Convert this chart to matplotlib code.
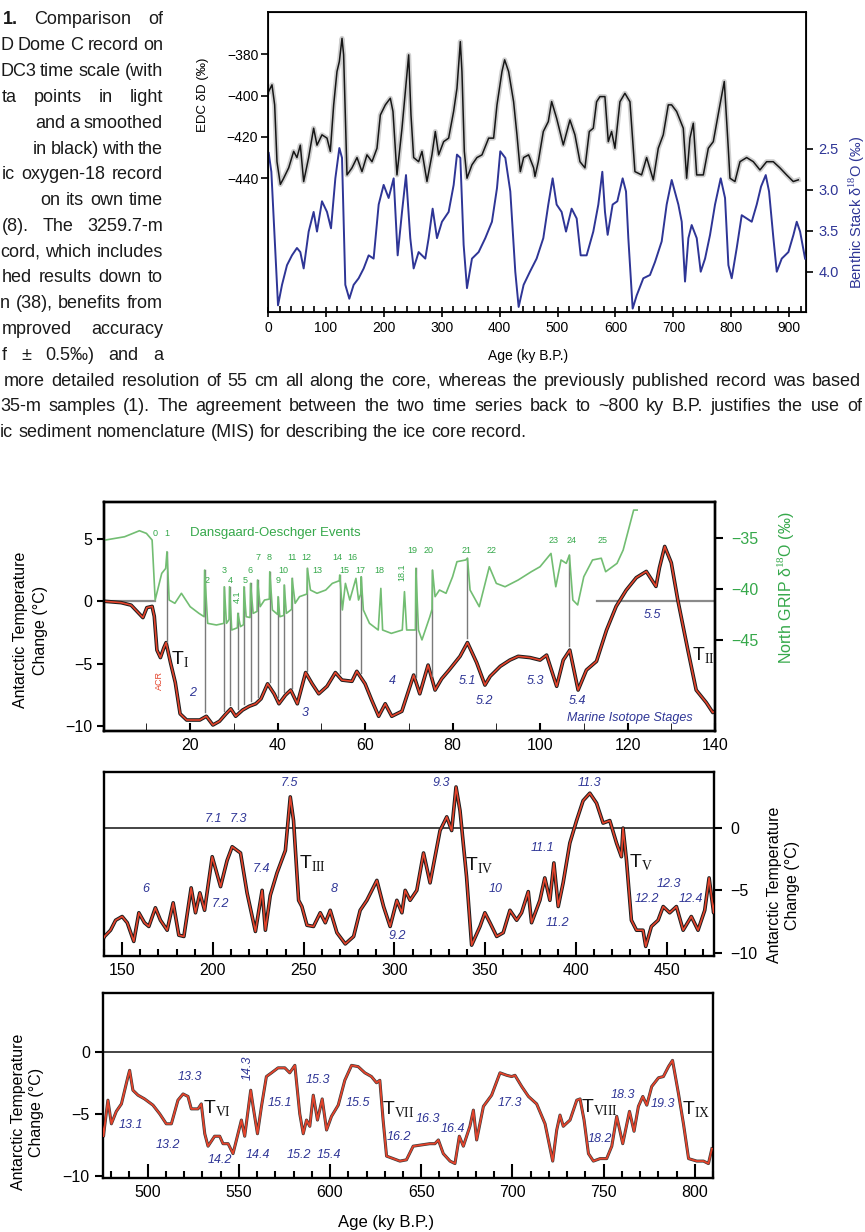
import matplotlib
matplotlib.use('Agg')
import matplotlib.pyplot as plt
from matplotlib import font_manager
import numpy as np
from matplotlib.ticker import MultipleLocator

plt.rcParams['font.family'] = ['Liberation Sans', 'DejaVu Sans']
plt.rcParams['mathtext.fontset'] = 'custom'
plt.rcParams['mathtext.rm'] = 'Liberation Serif'
plt.rcParams['mathtext.sf'] = 'Liberation Sans'

# ---------------- DATA ----------------
# EPICA Dome C deuterium (permil) vs age (ky B.P.)
edc_age = [1.2, 6.9, 11.5, 15.5, 21.3, 27.0, 35.7, 44.3, 50.0, 55.8, 61.6, 70.2, 78.8, 84.6, 93.2, 101.9,
           107.6, 113.4, 119.1, 123.2, 127.8, 130.6, 136.4, 145.0, 153.7, 162.3, 170.9, 179.6, 188.2, 194.0,
           202.6, 211.2, 215.8, 222.7, 231.4, 242.9, 246.9, 251.5, 260.1, 265.9, 274.5, 283.1, 288.9, 294.7,
           303.3, 311.9, 320.5, 326.3, 332.1, 334.9, 339.0, 343.6, 352.2, 360.8, 369.5, 381.0, 389.6, 395.4,
           404.0, 408.6, 415.5, 424.1, 429.9, 435.7, 441.4, 450.0, 458.7, 461.0, 466.7, 475.4, 484.0, 489.8,
           498.4, 509.9, 521.4, 530.0, 538.7, 547.3, 554.8, 561.7, 567.4, 573.2, 581.8, 587.6, 593.3, 599.1,
           607.7, 616.3, 625.0, 633.6, 645.1, 653.8, 665.3, 673.9, 682.5, 691.2, 696.9, 705.6, 717.1, 722.9,
           728.6, 734.4, 740.2, 751.7, 760.3, 768.9, 780.4, 787.9, 794.8, 797.7, 806.3, 815.0, 826.5, 838.0,
           849.5, 861.0, 872.5, 884.0, 895.5, 907.0, 915.7]
edc_dD = [-398, -394.8, -404.5, -432, -443, -440, -435, -427, -430, -424, -441.6, -430, -415.8, -424, -419, -420.6,
          -427, -404.5, -388.4, -383.5, -372.3, -380.3, -438.4, -435, -430, -436.8, -428.7, -432, -425.5, -409.4,
          -404.5, -401.3, -407.7, -438.4, -415.8, -380.3, -409.4, -430, -432, -427, -441.6, -428.7, -417.4, -428.7,
          -422.3, -420.6, -407.7, -396.5, -373.9, -388.4, -427, -440, -433.5, -430, -428.7, -420.6, -420.6, -404.5,
          -388.4, -382.7, -388.4, -403, -419, -436.8, -430, -428.7, -435, -439.2, -432, -417.4, -412.6, -402.9,
          -411, -423.9, -411.8, -419, -432, -435, -417.4, -415.8, -403, -400.5, -400.5, -422.3, -417.4, -425.5,
          -403, -398.9, -403, -436.8, -438.4, -430, -440.8, -425.5, -419, -404.5, -404.5, -407.7, -415.8, -440,
          -420.6, -413.4, -438.4, -438.4, -425.5, -422.3, -404.5, -393.2, -425.5, -440, -441.6, -432, -430, -432,
          -436, -432, -432, -435, -438.4, -441.6, -440.8]

# Benthic stack d18O (permil)
benthic_age = [1.2, 5.8, 11.5, 17.3, 24.2, 32.8, 41.4, 50.0, 55.8, 61.6, 70.2, 78.8, 84.6, 93.2, 101.9, 108.8,
               116.3, 123.2, 127.8, 133.5, 140.4, 147.9, 156.5, 165.2, 173.8, 182.4, 191.1, 199.7, 208.3, 217.0,
               223.9, 231.4, 238.3, 245.7, 251.5, 260.1, 271.6, 277.4, 284.3, 291.8, 300.4, 311.9, 320.6, 326.3,
               332.1, 337.8, 343.6, 352.2, 363.7, 375.2, 386.7, 395.4, 401.1, 409.8, 418.4, 427.0, 432.8, 441.4,
               452.3, 463.8, 475.4, 484.0, 491.5, 498.4, 507.0, 514.6, 524.3, 533.0, 539.9, 550.2, 561.7, 570.4,
               577.3, 581.9, 586.5, 595.1, 603.2, 612.4, 618.2, 622.2, 629.7, 636.6, 648.1, 659.6, 668.3, 679.8,
               688.4, 697.1, 708.6, 714.4, 720.1, 725.9, 731.6, 740.3, 747.2, 754.7, 763.3, 771.9, 781.7, 789.2,
               795.0, 800.7, 809.4, 818.0, 826.7, 835.3, 843.9, 851.4, 859.5, 865.2, 872.7, 878.5, 887.1, 898.6,
               907.3, 913.0, 918.8, 927.4]
benthic_d18O = [2.55, 2.78, 3.59, 4.41, 4.16, 3.92, 3.80, 3.71, 3.76, 3.96, 3.51, 3.27, 3.51, 3.14, 3.27, 3.47,
                2.86, 2.49, 2.61, 4.16, 4.33, 4.16, 4.08, 3.96, 3.80, 3.84, 3.18, 2.94, 3.10, 2.86,
                3.80, 3.27, 2.82, 3.59, 3.96, 3.76, 3.84, 3.59, 3.23, 3.59, 3.39, 3.27, 2.94, 2.57,
                2.61, 3.67, 4.20, 3.84, 3.76, 3.59, 3.39, 2.98, 2.53, 2.61, 3.02, 4.00, 4.43, 4.16,
                4.00, 3.84, 3.59, 3.18, 2.86, 3.18, 3.27, 3.51, 3.23, 3.35, 3.80, 3.80, 3.51, 3.18,
                2.78, 3.27, 3.55, 3.18, 3.14, 2.86, 3.02, 3.59, 4.45, 4.29, 4.08, 4.04, 3.88, 3.63,
                3.18, 2.88, 3.18, 3.39, 4.12, 3.59, 3.43, 3.59, 4.00, 3.84, 3.55, 3.18, 2.86, 3.10,
                3.92, 4.08, 3.71, 3.31, 3.35, 3.39, 3.18, 2.96, 2.82, 3.02, 3.59, 4.00, 3.84, 3.76,
                3.55, 3.39, 3.51, 3.84]

# Antarctic temperature change (deg C) vs age (ky B.P.)
temp_age = [0.7, 4.2, 6.5, 9.2, 10.1, 11.3, 11.8, 12.4, 13.2, 14.0, 14.5, 15.5, 16.6, 17.7, 19.2, 22.2, 23.7,
            25.2, 26.7, 28.2, 29.3, 30.4, 32.0, 33.5, 35.0, 36.2, 37.7, 39.2, 40.3, 41.8, 43.0, 44.5, 46.4,
            47.9, 49.4, 51.3, 53.2, 54.7, 57.0, 58.1, 60.0, 61.5, 63.1, 64.6, 66.1, 68.4, 71.1, 72.5, 74.4,
            76.0, 77.5, 79.2, 81.7, 83.4, 85.5, 87.4, 88.6, 90.9, 93.1, 95.0, 97.7, 100.0, 101.5, 103.8, 105.3,
            106.8, 108.7, 110.6, 112.9, 115.2, 117.4, 119.7, 122.0, 124.3, 126.5, 127.3, 128.5, 130.0, 131.5,
            133.8, 135.7, 138.0, 139.5,
            140.3, 143.6, 146.4, 150.0, 152.8, 156.4, 159.2, 162.3, 164.7, 168.3, 171.1, 174.8, 178.1, 181.2,
            184.0, 188.0, 190.4, 192.8, 195.4, 199.6, 204.2, 207.8, 210.6, 215.2, 218.8, 223.4, 227.1, 228.9,
            231.6, 235.3, 239.9, 242.6, 244.4, 247.2, 249.0, 251.8, 255.4, 259.1, 261.9, 264.6, 268.3, 272.9,
            277.5, 281.1, 284.8, 290.3, 294.0, 297.6, 301.3, 304.1, 305.9, 308.6, 312.3, 316.0, 319.6, 325.1,
            328.8, 331.5, 333.9, 336.1, 339.7, 342.5, 347.1, 349.8, 352.6, 356.3, 359.9, 363.6, 367.3, 370.0,
            373.7, 375.5, 380.1, 382.8, 385.6, 387.8, 390.2, 392.9, 396.6, 400.3, 403.9, 407.6, 411.3, 414.9,
            418.6, 422.3, 425.0, 425.9, 427.8, 430.5, 433.3, 436.9, 438.4, 441.5, 445.2, 448.0, 451.6, 455.3,
            459.0, 463.5, 467.2, 470.9, 473.3, 475.8,
            476.4, 478.2, 480.1, 482.8, 485.6, 489.2, 490.1, 491.9, 494.7, 498.3, 502.9, 506.6, 510.2, 513.0,
            516.6, 519.4, 522.1, 523.9, 527.6, 529.4, 531.3, 533.1, 536.7, 539.5, 541.3, 544.1, 546.8, 549.5,
            551.4, 553.2, 556.5, 557.8, 560.2, 562.4, 565.1, 567.9, 571.5, 575.2, 577.9, 580.7, 583.4, 585.3,
            587.1, 588.9, 590.8, 593.1, 595.7, 598.1, 600.8, 604.5, 608.1, 611.8, 615.4, 619.1, 622.7, 625.5,
            627.3, 629.1, 631.0, 634.6, 638.3, 641.9, 645.6, 650.1, 654.7, 657.5, 659.4, 662.1, 665.8, 668.5,
            670.9, 673.1, 676.7, 678.6, 680.4, 684.1, 688.6, 693.2, 696.9, 699.6, 701.4, 705.1, 708.8, 713.3,
            717.9, 722.1, 724.3, 726.1, 727.9, 731.6, 735.3, 737.1, 739.3, 741.7, 744.4, 748.1, 751.7, 754.5,
            757.2, 760.5, 764.2, 766.7, 769.1, 771.5, 773.7, 776.4, 780.1, 782.8, 785.6, 787.8, 791.1, 793.8,
            796.6, 801.1, 804.8, 807.5, 809.4]
temp = [0.0, -0.1, -0.3, -1.3, -0.5, -0.4, -1.2, -3.9, -4.5, -3.7, -3.3, -4.9, -6.5, -9.0, -9.5, -9.5, -9.2,
        -9.9, -9.6, -9.0, -8.6, -9.2, -8.7, -8.4, -8.2, -7.8, -6.6, -7.4, -8.2, -7.5, -7.1, -8.2, -5.7,
        -6.6, -7.4, -6.8, -5.7, -6.3, -6.4, -5.6, -6.6, -7.9, -9.2, -8.2, -9.2, -8.8, -5.9, -7.4, -5.1,
        -7.1, -6.2, -5.5, -4.4, -3.3, -4.9, -6.7, -6.0, -5.2, -4.7, -4.4, -4.5, -4.7, -4.3, -6.8, -4.7,
        -3.9, -7.1, -5.5, -4.8, -2.3, -0.4, 0.9, 1.9, 2.4, 1.2, 2.7, 4.4, 3.1, 0.1,
        -3.9, -7.1, -8.1, -8.9,
        -8.7, -8.2, -7.4, -7.1, -7.6, -9.1, -6.8, -7.6, -7.9, -6.4, -7.4, -8.2, -6.0, -8.6,
        -8.7, -4.8, -6.8, -5.2, -6.6, -2.3, -4.7, -2.6, -1.5, -2.0, -5.2, -8.3, -5.0, -8.2,
        -5.4, -3.6, -1.8, 2.5, 0.6, -5.8, -6.3, -7.8, -7.9, -6.8, -7.6, -6.6, -8.4, -9.3,
        -8.7, -6.6, -5.8, -4.2, -6.3, -7.9, -5.8, -6.8, -5.0, -5.8, -5.0, -2.0, -4.4, -0.2,
        0.9, -0.2, 3.3, 1.4, -3.9, -9.4, -7.9, -6.8, -7.6, -8.7, -8.4, -6.6, -7.4, -6.8,
        -5.1, -7.6, -5.8, -4.0, -5.8, -2.8, -6.3, -4.4, -1.2, 0.6, 2.2, 2.8, 2.0, 0.4,
        0.6, -1.2, -2.3, 0.0, -2.6, -7.4, -8.2, -8.2, -9.5, -7.9, -7.4, -6.3, -6.8, -6.3,
        -8.2, -7.1, -8.2, -6.6, -4.0, -6.8,
        -6.0, -3.9, -5.8, -4.8, -4.2, -2.0, -1.5, -3.1, -3.5, -3.8, -4.3, -5.0, -5.8, -5.8,
        -3.9, -3.4, -3.6, -4.6, -4.6, -4.2, -6.6, -7.6, -6.8, -6.8, -7.4, -7.4, -8.2, -6.6,
        -5.5, -6.8, -3.1, -4.4, -6.6, -4.4, -2.0, -1.7, -1.3, -1.3, -1.7, -1.1, -5.0, -6.6,
        -5.5, -6.0, -3.5, -5.5, -3.8, -6.3, -5.2, -4.3, -2.3, -1.1, -1.2, -1.7, -2.0, -2.5,
        -2.3, -5.5, -8.4, -8.6, -8.8, -8.7, -7.6, -7.5, -7.4, -7.4, -7.1, -8.2, -8.8, -9.0,
        -6.8, -7.6, -6.0, -4.7, -7.1, -4.4, -3.5, -1.7, -1.9, -2.0, -1.9, -2.8, -3.6, -4.2,
        -5.8, -8.8, -6.3, -5.1, -6.0, -5.5, -3.9, -3.8, -5.5, -8.2, -8.8, -8.6, -8.6, -7.6,
        -5.2, -7.4, -4.8, -6.4, -4.4, -3.6, -4.3, -2.8, -2.1, -2.0, -1.2, -0.7, -3.4, -5.8,
        -8.6, -8.8, -8.8, -9.0, -7.8]

# North GRIP d18O (permil) vs age (ky B.P.)
ngrip_age = [0.6, 5.0, 8.4, 10.0, 11.3, 12.0, 13.5, 14.4, 14.7, 15.2, 16.5, 18.0, 20.0, 22.0, 23.2, 23.3, 24.0,
             26.0, 27.7, 27.8, 28.3, 28.9, 29.0, 29.5, 30.8, 30.9, 31.5, 32.2, 32.3, 32.8, 33.7, 33.8, 34.4,
             35.3, 35.4, 36.0, 37.0, 38.1, 38.2, 38.8, 40.0, 40.1, 40.5, 41.4, 41.5, 42.0, 43.2, 43.3, 44.0,
             45.0, 46.7, 46.8, 47.5, 49.0, 51.0, 52.5, 54.1, 54.2, 54.8, 55.5, 56.5, 57.9, 58.5, 59.0, 59.1,
             59.6, 61.0, 63.0, 63.6, 64.0, 66.0, 68.5, 69.0, 69.5, 71.5, 71.6, 72.2, 73.0, 74.8, 75.3, 75.4,
             76.0, 77.0, 78.5, 80.0, 81.0, 83.0, 83.4, 84.0, 86.1, 88.4, 90.0, 92.0, 95.0, 98.0, 100.0, 102.5,
             103.6, 104.8, 106.0, 106.7, 107.5, 108.6, 110.0, 112.0, 114.0, 115.0, 117.6, 119.0, 121.4, 122.2]
ngrip = [-35.22, -34.90, -34.31, -34.57, -35.22, -41.09, -38.48, -38.0, -36.36, -41.09, -41.41, -40.43, -41.74,
         -42.39, -42.72, -38.16, -43.37, -43.53, -43.37, -39.79, -43.37, -43.0, -39.79, -44.02, -43.8, -42.39,
         -43.69, -43.5, -39.79, -42.72, -42.8, -39.46, -42.39, -42.2, -39.13, -41.74, -41.09, -41.0, -38.32,
         -42.06, -42.5, -40.76, -42.72, -42.6, -39.62, -42.39, -42.0, -38.97, -41.41, -40.76, -40.5, -37.99,
         -40.11, -40.43, -40.11, -39.46, -39.2, -38.64, -42.06, -39.46, -41.09, -38.97, -41.09, -40.5, -38.81,
         -42.06, -43.37, -44.02, -39.95, -44.02, -44.35, -44.02, -40.27, -44.02, -44.02, -37.99, -44.02, -44.99,
         -42.72, -42.0, -38.16, -40.76, -40.11, -40.43, -38.81, -37.34, -37.17, -37.0, -40.11, -41.74, -37.83,
         -39.46, -39.79, -39.13, -38.32, -37.83, -36.53, -39.79, -37.17, -37.5, -36.69, -41.09, -41.57, -38.81,
         -37.17, -37.0, -38.32, -37.5, -36.2, -32.29, -32.29]

# Dansgaard-Oeschger events linked to Antarctic warmings (ages, ky B.P.)
do_line_ages = [14.7, 23.3, 27.8, 29.0, 30.9, 32.3, 33.8, 35.4, 38.2, 40.1, 41.5, 43.3, 46.8, 54.2, 59.1,
                71.6, 75.4, 83.4, 106.7]
do_labels = ["0", "1", "2", "3", "4", "4.1", "5", "6", "7", "8", "9", "10", "11", "12", "13", "14", "15",
             "16", "17", "18", "18.1", "19", "20", "21", "22", "23", "24", "25"]
do_label_age = [12.0, 14.7, 23.9, 27.8, 29.1, 30.7, 32.6, 33.7, 35.5, 38.1, 40.1, 41.3, 43.3, 46.5, 49.0, 53.6,
                55.2, 57.0, 58.9, 63.2, 68.5, 70.7, 74.6, 83.3, 88.8, 103.2, 107.1, 114.2]
do_label_T = [5.4, 5.4, 1.7, 2.5, 1.7, 0.4, 1.7, 2.5, 3.5, 3.5, 1.7, 2.5, 3.5, 3.5, 2.5, 3.5,
              2.5, 3.5, 2.5, 2.5, 2.3, 4.1, 4.1, 4.1, 4.1, 4.9, 4.9, 4.9]

# Marine isotope stage labels (text, age, temperature position)
mis1 = [("2", 20.5, -7.3), ("3", 46.3, -8.9), ("4", 66.2, -6.4), ("5.1", 83.3, -6.4), ("5.2", 87.4, -8.0),
        ("5.3", 98.9, -6.4), ("5.4", 108.5, -8.0), ("5.5", 125.8, -1.1)]
mis2 = [("6", 163.2, -4.9), ("7.1", 200.1, 0.7), ("7.3", 213.8, 0.7), ("7.2", 203.9, -6.1), ("7.4", 226.5, -3.3),
        ("7.5", 241.9, 3.6), ("8", 266.7, -4.9), ("9.2", 301.3, -8.7), ("9.3", 325.6, 3.6), ("10", 355.8, -4.9),
        ("11.1", 381.7, -1.6), ("11.2", 390.0, -7.6), ("11.3", 407.6, 3.6), ("12.2", 438.9, -5.7),
        ("12.3", 451.0, -4.5), ("12.4", 463.2, -5.7)]
mis3 = [("13.1", 490.8, -5.9), ("13.3", 523.2, -2.0), ("13.2", 511.1, -7.5), ("14.2", 539.6, -8.7),
        ("14.4", 560.5, -8.3), ("15.1", 572.5, -4.1), ("15.3", 593.4, -2.3), ("15.2", 583.0, -8.3),
        ("15.4", 599.4, -8.3), ("15.5", 615.3, -4.1), ("16.2", 637.8, -6.9), ("16.3", 653.7, -5.4),
        ("16.4", 667.4, -6.2), ("17.3", 698.6, -4.1), ("18.2", 748.0, -7.0), ("18.3", 760.6, -3.5),
        ("19.3", 782.6, -4.2)]
mis3_rot = [("14.3", 555.0, -1.3)]
# Terminations (roman numeral, age, temperature)
term1 = [("I", 15.6, -4.66), ("II", 134.8, -4.4)]
term2 = [("III", 247.4, -2.9), ("IV", 338.6, -3.0), ("V", 429.4, -2.8)]
term3 = [("VI", 530.3, -4.6), ("VII", 628.6, -4.7), ("VIII", 737.4, -4.55), ("IX", 793.1, -4.7)]
zero_ref_segments = [(0.3, 12.0), (113.0, 140.0)]

caption_column = ["1. Comparison of", "D Dome C record on", "DC3 time scale (with", "ta points in light",
                  "and a smoothed", "in black) with the", "ic oxygen-18 record", "on its own time",
                  "(8). The 3259.7-m", "cord, which includes", "hed results down to", "n (38), benefits from",
                  "mproved accuracy", "f \u00b1 0.5\u2030) and a"]
caption_column_start = [3, 0, 0, 2, 35, 33, 2, 40, 2, 0, 2, 0, 2, 2]
caption_full = ["more detailed resolution of 55 cm all along the core, whereas the previously published record was based",
                "35-m samples (1). The agreement between the two time series back to ~800 ky B.P. justifies the use of",
                "ic sediment nomenclature (MIS) for describing the ice core record."]
caption_full_start = [4, 0, 0]

# ---------------- FIGURE ----------------
W, H = 865, 1232
fig = plt.figure(figsize=(W / 100, H / 100), dpi=100)


def px_axes(l, t, r, b):
    return fig.add_axes([l / W, 1 - b / H, (r - l) / W, (b - t) / H])


def fx(x):
    return x / W


def fy(y):
    return 1 - y / H


RED = '#e4432b'
BLUE = '#2e3596'
GREEN = '#35a84a'
LGREEN = '#72bd72'

names = {f.name for f in font_manager.fontManager.ttflist}
if 'Liberation Sans Narrow' in names:
    CAPFAM = ['Liberation Sans Narrow', 'DejaVu Sans']
    CAPFS = 16
else:
    CAPFAM = ['Liberation Sans', 'DejaVu Sans']
    CAPFS = 13
renderer = fig.canvas.get_renderer()


def text_width(s, **kw):
    t = fig.text(0, 0, s, fontsize=CAPFS, family=CAPFAM, **kw)
    w = t.get_window_extent(renderer).width
    t.remove()
    return w


SPW = text_width('a a') - 2 * text_width('a')


def caption_line(text, x0, x1, y, justify=True, bold_first=False):
    words = text.split(' ')
    arts = []
    for i, w in enumerate(words):
        arts.append(fig.text(0, fy(y), w, fontsize=CAPFS, family=CAPFAM, va='center', ha='left',
                             color='#1a1a1a', weight='bold' if (bold_first and i == 0) else 'normal'))
    widths = [a.get_window_extent(renderer).width for a in arts]
    gap = SPW
    if justify and len(words) > 1:
        gap = (x1 - x0 - sum(widths)) / (len(words) - 1)
        gap = max(gap, 0.45 * SPW)
    x = x0
    for a, wd in zip(arts, widths):
        a.set_x(fx(x))
        x += wd + gap


LINE0, LSTEP = 20, 25.8
for i, (line, st) in enumerate(zip(caption_column, caption_column_start)):
    caption_line(line, st, 163, LINE0 + LSTEP * i, justify=True, bold_first=(i == 0))
caption_line(caption_full[0], caption_full_start[0], 861, LINE0 + LSTEP * 14)
caption_line(caption_full[1], caption_full_start[1], 862, LINE0 + LSTEP * 15)
caption_line(caption_full[2], caption_full_start[2], 862, LINE0 + LSTEP * 16, justify=False)

# ---------- top chart ----------
axT = px_axes(268, 12.3, 806, 311.7)
axT.plot(edc_age, edc_dD, color='#c4c4c4', lw=3.6, alpha=0.8, solid_joinstyle='round', zorder=1)
axT.plot(edc_age, edc_dD, color='#161616', lw=1.1, zorder=2)
axT.set_xlim(0, 929)
axT.set_ylim(-504.6, -359.7)
axT.set_yticks([-440, -420, -400, -380])
axT.xaxis.set_major_locator(MultipleLocator(100))
axT.xaxis.set_minor_locator(MultipleLocator(20))
axT.tick_params(axis='x', which='major', direction='inout', length=7, width=1.2, labelsize=10, pad=3)
axT.tick_params(axis='x', which='minor', direction='in', length=4, width=1.2)
axT.tick_params(axis='y', direction='out', length=5, width=1.2, labelsize=10, pad=2)
for s in axT.spines.values():
    s.set_linewidth(1.3)
axB = axT.twinx()
axB.plot(benthic_age, benthic_d18O, color=BLUE, lw=1.4)
axB.set_ylim(4.488, 0.833)
axB.set_yticks([2.5, 3.0, 3.5, 4.0])
axB.set_yticklabels(['2.5', '3.0', '3.5', '4.0'])
axB.tick_params(axis='y', direction='out', length=5, width=1.2, labelsize=10.5, labelcolor=BLUE, pad=4)
fig.text(fx(203), fy(95), 'EDC \u03b4D (\u2030)', rotation=90, ha='center', va='center', fontsize=9.5)
fig.text(fx(857), fy(212), 'Benthic Stack \u03b4$^{18}$O (\u2030)', rotation=90, ha='center', va='center',
         fontsize=10.5, color=BLUE)
fig.text(fx(528), fy(356), 'Age (ky B.P.)', ha='center', va='center', fontsize=10)


def style_panel(ax):
    for s in ax.spines.values():
        s.set_linewidth(1.7)
    ax.tick_params(axis='both', labelsize=11.5, width=1.5)


def tlabel(ax, roman, x, y):
    ax.text(x, y, r'$\mathsf{T}_{\mathrm{%s}}$' % roman, fontsize=14, ha='left', va='center', color='#111111')


def mislabel(ax, items, rot=0):
    for t, x, y in items:
        ax.text(x, y, t, fontsize=9, style='italic', color=BLUE, ha='center', va='center', rotation=rot)


# ---------- panel 1 ----------
ax1 = px_axes(104, 502, 715, 731)
ax1.set_xlim(0.3, 140)
ax1.set_ylim(-10.38, 7.96)
for a, b in zero_ref_segments:
    ax1.plot([a, b], [0, 0], color='#8a8a8a', lw=1.6, zorder=1)
ax1.plot(temp_age, temp, color='#1c1c1c', lw=2.6, zorder=2)
ax1.plot(temp_age, temp, color=RED, lw=1.2, zorder=3)
ax1.set_yticks([-10, -5, 0, 5])
ax1.xaxis.set_major_locator(MultipleLocator(20))
ax1.xaxis.set_minor_locator(MultipleLocator(10))
style_panel(ax1)
ax1.tick_params(axis='x', which='both', direction='in', length=6, pad=5)
ax1.tick_params(axis='y', direction='out', length=5)
ax1g = ax1.twinx()
ax1g.set_ylim(-53.9, -31.5)
ax1g.plot(ngrip_age, ngrip, color=LGREEN, lw=1.2, zorder=2)
ax1g.set_yticks([-45, -40, -35])
ax1g.tick_params(axis='y', direction='out', length=6, width=1.5, labelsize=11.5, labelcolor=GREEN, pad=6)
for s in ax1g.spines.values():
    s.set_linewidth(1.7)
inv = ax1g.transData.inverted()
for a in do_line_ages:
    top = np.interp(a, ngrip_age, ngrip)
    bot_T = np.interp(a, temp_age, temp) + 0.4
    bot = inv.transform(ax1.transData.transform((a, bot_T)))[1]
    ax1g.plot([a, a], [bot, top], color='#7a7a7a', lw=1.0, zorder=1)
for t, x, y in zip(do_labels, do_label_age, do_label_T):
    ax1.text(x, y, t, fontsize=6.5, color=GREEN, ha='center', va='center',
             rotation=90 if t in ('4.1', '18.1') else 0)
ax1.text(39.4, 5.5, 'Dansgaard-Oeschger Events', fontsize=9.5, color=GREEN, ha='center', va='center')
ax1.text(12.9, -6.3, 'ACR', fontsize=6.5, color=RED, rotation=90, ha='center', va='center')
ax1.text(120.6, -9.3, 'Marine Isotope Stages', fontsize=9, style='italic', color=BLUE, ha='center', va='center')
mislabel(ax1, mis1)
for r, x, y in term1:
    tlabel(ax1, r, x, y)
fig.text(fx(30.5), fy(630), 'Antarctic Temperature\nChange (\u00b0C)', rotation=90, ha='center', va='center',
         fontsize=11.5, linespacing=1.5)
fig.text(fx(786), fy(588), 'North GRIP \u03b4$^{18}$O (\u2030)', rotation=90, ha='center', va='center',
         fontsize=11.5, color=GREEN)

# ---------- panel 2 ----------
ax2 = px_axes(104, 772, 714, 956)
ax2.set_xlim(140, 476)
ax2.set_ylim(-10.27, 4.5)
ax2.axhline(0, color='#111111', lw=1.1, zorder=1)
ax2.plot(temp_age, temp, color='#1c1c1c', lw=2.6, zorder=2)
ax2.plot(temp_age, temp, color=RED, lw=1.2, zorder=3)
ax2.yaxis.tick_right()
ax2.set_yticks([-10, -5, 0])
ax2.xaxis.set_major_locator(MultipleLocator(50))
ax2.xaxis.set_minor_locator(MultipleLocator(10))
style_panel(ax2)
ax2.tick_params(axis='x', which='major', direction='in', length=10, pad=5)
ax2.tick_params(axis='x', which='minor', direction='in', length=5, width=1.5)
ax2.tick_params(axis='y', direction='out', length=6, pad=6)
mislabel(ax2, mis2)
for r, x, y in term2:
    tlabel(ax2, r, x, y)
fig.text(fx(784), fy(885), 'Antarctic Temperature\nChange (\u00b0C)', rotation=90, ha='center', va='center',
         fontsize=11.5, linespacing=1.25)

# ---------- panel 3 ----------
ax3 = px_axes(103, 993, 713, 1178)
ax3.set_xlim(475.5, 810)
ax3.set_ylim(-10.16, 4.72)
ax3.axhline(0, color='#111111', lw=1.1, zorder=1)
ax3.plot(temp_age, temp, color='#3a3a3a', lw=2.2, zorder=2)
ax3.plot(temp_age, temp, color=RED, lw=1.3, zorder=3)
ax3.set_yticks([-10, -5, 0])
ax3.xaxis.set_major_locator(MultipleLocator(50))
ax3.xaxis.set_minor_locator(MultipleLocator(10))
style_panel(ax3)
ax3.tick_params(axis='x', which='major', direction='in', length=10, pad=5)
ax3.tick_params(axis='x', which='minor', direction='in', length=5, width=1.5)
ax3.tick_params(axis='y', direction='out', length=6)
mislabel(ax3, mis3)
mislabel(ax3, mis3_rot, rot=90)
for r, x, y in term3:
    tlabel(ax3, r, x, y)
fig.text(fx(28), fy(1112), 'Antarctic Temperature\nChange (\u00b0C)', rotation=90, ha='center', va='center',
         fontsize=11.5, linespacing=1.25)
fig.text(fx(386), fy(1222), 'Age (ky B.P.)', ha='center', va='center', fontsize=12)

fig.savefig('out.png', dpi=100)
